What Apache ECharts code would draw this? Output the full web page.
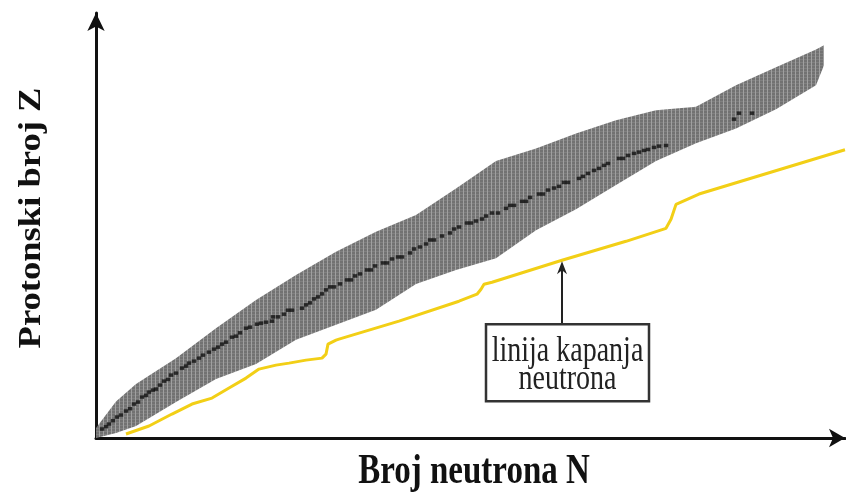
<!DOCTYPE html>
<html>
<head>
<meta charset="utf-8">
<script src="https://cdn.jsdelivr.net/npm/echarts@6/dist/echarts.min.js"></script>
<style>
  html, body { margin: 0; padding: 0; background: #ffffff; }
  #main { width: 846px; height: 493px; }
</style>
</head>
<body>
<div id="main"></div>
<script>
// ---- Data ----
// Known nuclides band: boundaries per neutron number N
const bandN     = [0, 5, 10, 20, 30, 40, 50, 60, 70, 80, 90, 100, 110, 120, 130, 140, 150, 160, 170, 180, 182];
const bandUpper = [3, 11, 16.2, 24, 33, 41.5, 49, 56, 62, 67, 75, 83.2, 87, 91.5, 95.5, 98.5, 99.5, 106, 111.4, 116.7, 118];
const bandLower = [0, 1.5, 3.6, 10.8, 17.7, 22.2, 29.5, 34, 38.5, 46.3, 50.5, 54, 62.4, 68.7, 76, 83.2, 88.6, 93, 98.8, 106, 112];

// Stable nuclides (black cells): [N, Z]
const stableNuclides = [
  [1.5,2.7],[2.5,3.4],[3.25,4.2],[4.25,5.2],[5.25,6.3],[6.25,6.9],[7.5,8.1],[8.5,8.8],[9.5,10.2],[10.5,10.8],
  [11.5,12.3],[12.5,12.8],[13.25,13.8],[14.25,14.4],[15,14.7],[16,15.9],[17,17.1],[18,17.6],[18.75,18.9],[20,19.5],
  [21.5,21],[22.5,21.6],[23.25,22.5],[24.5,23.1],[25.75,24],[26.75,24.9],[28.25,25.8],[29.5,26.7],[30.5,27.3],[31.5,28.2],[32.5,28.8],
  [34,30.3],[35,30.6],[36,31.6],[37.5,33],[38.5,33.3],[40.25,34.2],[41.25,34.5],[42.5,34.8],[44,35.1],[44.25,36.4],[45.5,36.4],[47,37.2],[48,38.4],[49,38.4],
  [51.5,39],[52.5,40],[53.5,40.6],[54.5,41.8],[55.5,42.4],[56.5,43.3],[57.5,44.5],[58.5,45.4],[59.5,45.4],[61,46.3],[62.75,47.5],[63.75,47.5],[64.75,48.7],[66,49.3],
  [67.75,50.5],[68.75,50.5],[69.75,51.7],[71.75,52.6],[72.75,52.6],[74,53.8],[75.5,54.4],[76.5,54.4],[78.5,55.6],[79.5,56.8],[81,57.4],[82.5,58.3],[83.5,59.5],[84.5,59.5],
  [86.5,60.7],[88.5,61.6],[89.5,62.8],[90.75,63.4],[92.75,64.6],[93.75,64.6],[95,65.2],[96.5,65.8],[97.5,66.7],[99,67.6],[100.5,67.6],[102.5,69],[103.5,69.9],[104.5,69.9],
  [106.5,71.1],[107.5,71.1],[108.5,72.3],[110.75,73.3],[111.75,73.3],[113,74.5],[114.5,75.1],[115.75,75.6],[117,76.8],[118,76.8],[120.75,78],[121.75,78.6],[123,79.5],
  [124.5,80.4],[125.75,81],[127,81.9],[128,82.5],[130.75,84],[131.75,84],[133,84.9],[134.5,85.5],[135.75,85.9],[137,86.4],[138,86.7],[139.5,87.3],[140.75,87.7],[142.5,87.9],
  [159.5,95.8],[160.75,97.6],[164,97.6]
];

// Neutron drip line: [N, Z]
const dripLine = [
  [7.5,1.2],[13.25,3.6],[19,7.2],[24,10.2],[29,12],[33.25,15],[37.5,18],[40.75,20.7],[45,21.9],[48.25,22.5],
  [52.5,23.4],[56.5,24],[57.5,25.2],[58,28.2],[60,29.4],[60.75,29.7],[75.75,35.1],[90.75,41.1],[95.25,43.2],
  [96.25,44.7],[97,46.2],[99,46.8],[116.5,53.4],[132.5,59.1],[142.5,63],[143.75,65.7],[145,70.2],[150.75,73.3],[187.25,86.6]
];

const annotationTarget = [116.5, 53.4];
const annotationLines = ['linija kapanja', 'neutrona'];
const xAxisTitle = 'Broj neutrona N';
const yAxisTitle = 'Protonski broj Z';

// ---- Styling helpers ----
function makePattern() {
  const c = document.createElement('canvas');
  c.width = 4; c.height = 3;
  const g = c.getContext('2d');
  g.fillStyle = '#727272'; g.fillRect(0, 0, 4, 3);
  g.fillStyle = '#a0a0a0'; g.fillRect(3, 0, 1, 3);
  g.fillStyle = '#808080'; g.fillRect(0, 2, 3, 1);
  return c;
}
const bandPattern = { image: makePattern(), repeat: 'repeat' };

const chart = echarts.init(document.getElementById('main'), null, { renderer: 'canvas' });

const axisLineStyle = { color: '#111', width: 3 };

const option = {
  animation: false,
  backgroundColor: '#ffffff',
  grid: { left: 96, right: 1, top: 13, bottom: 55, containLabel: false },
  xAxis: {
    type: 'value', min: 0, max: 187.25,
    axisLine: { show: true, onZero: false, symbol: ['none', 'arrow'], symbolSize: [14, 16], lineStyle: axisLineStyle },
    axisTick: { show: false }, axisLabel: { show: false }, splitLine: { show: false }
  },
  yAxis: {
    type: 'value', min: 0, max: 127.7,
    axisLine: { show: true, onZero: false, symbol: ['none', 'arrow'], symbolSize: [13, 18], lineStyle: axisLineStyle },
    axisTick: { show: false }, axisLabel: { show: false }, splitLine: { show: false }
  },
  series: [
    {
      name: 'band', type: 'custom', silent: true, z: 1,
      data: [[bandN[0], bandLower[0]]],
      encode: { x: 0, y: 1 },
      renderItem: function (params, api) {
        const upper = bandN.map((n, i) => api.coord([n, bandUpper[i]]));
        const lower = bandN.map((n, i) => api.coord([n, bandLower[i]])).reverse();
        return {
          type: 'polygon',
          shape: { points: upper.concat(lower) },
          style: { fill: bandPattern, stroke: null }
        };
      }
    },
    {
      name: 'drip', type: 'line', symbol: 'none', silent: true,
      lineStyle: { color: '#f2cf16', width: 3 },
      data: dripLine,
      z: 3
    },
    {
      name: 'stable', type: 'scatter', symbol: 'rect', symbolSize: [4.5, 3.5], silent: true,
      itemStyle: { color: '#111' },
      data: stableNuclides,
      z: 4
    }
  ]
};
chart.setOption(option);

const tip = chart.convertToPixel({ gridIndex: 0 }, annotationTarget);
const tx = tip[0], ty = tip[1] + 1;
const boxTop = ty + 63, boxBottom = ty + 140, boxLeft = tx - 76, boxRight = tx + 87;
const boxCx = (boxLeft + boxRight) / 2;

chart.setOption({
  graphic: [
    {
      type: 'text', x: 474, y: 472, scaleY: 1.3, z: 10,
      style: { text: xAxisTitle, font: 'bold 33px "Liberation Serif"', fill: '#111', textAlign: 'center', textVerticalAlign: 'middle' }
    },
    {
      type: 'text', x: 32, y: 218, rotation: Math.PI / 2, scaleX: 1.18, z: 10,
      style: { text: yAxisTitle, font: 'bold 31px "Liberation Serif"', fill: '#111', textAlign: 'center', textVerticalAlign: 'middle' }
    },
    {
      type: 'line', z: 10,
      shape: { x1: tx, y1: boxTop, x2: tx, y2: ty + 8 },
      style: { stroke: '#222', lineWidth: 2 }
    },
    {
      type: 'polygon', z: 10,
      shape: { points: [[tx, ty], [tx + 5, ty + 13], [tx, ty + 9], [tx - 5, ty + 13]] },
      style: { fill: '#222' }
    },
    {
      type: 'rect', z: 10,
      shape: { x: boxLeft, y: boxTop, width: boxRight - boxLeft, height: boxBottom - boxTop },
      style: { fill: '#ffffff', stroke: '#333', lineWidth: 2.5 }
    },
    {
      type: 'text', x: boxCx, y: boxTop + 27, scaleY: 1.3, z: 11,
      style: { text: annotationLines[0], font: '28px "Liberation Serif"', fill: '#222', textAlign: 'center', textVerticalAlign: 'middle' }
    },
    {
      type: 'text', x: boxCx, y: boxTop + 55, scaleY: 1.3, z: 11,
      style: { text: annotationLines[1], font: '28px "Liberation Serif"', fill: '#222', textAlign: 'center', textVerticalAlign: 'middle' }
    }
  ]
});
</script>
</body>
</html>
